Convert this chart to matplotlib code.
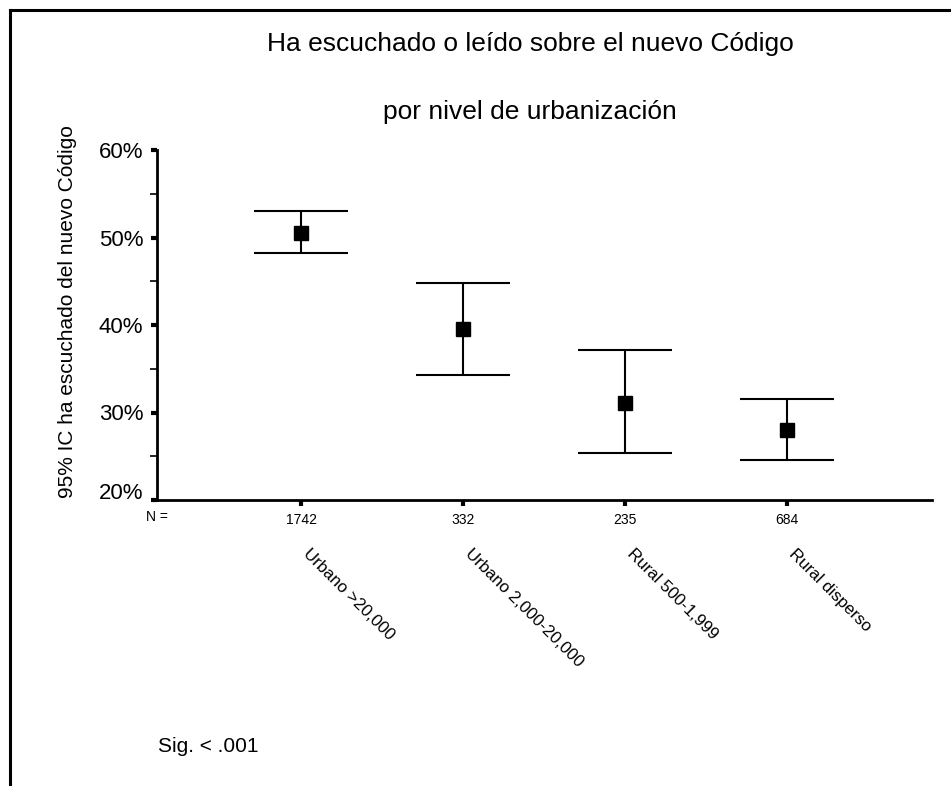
import matplotlib
matplotlib.use("Agg")
import matplotlib.pyplot as plt
from matplotlib.lines import Line2D
from matplotlib.ticker import FixedLocator, FuncFormatter
import matplotlib.transforms as mtransforms

plt.rcParams['font.family'] = ['Liberation Sans', 'DejaVu Sans']

categories = ["Urbano >20,000", "Urbano 2,000-20,000", "Rural 500-1,999", "Rural disperso"]
n_values = ["1742", "332", "235", "684"]
means = [50.5, 39.5, 31.1, 28.0]
upper = [53.0, 44.8, 37.1, 31.5]
lower = [48.2, 34.3, 25.4, 24.6]
y_ticks = [20, 30, 40, 50, 60]
y_minor = [25, 35, 45, 55]

W, H = 951, 786
fig = plt.figure(figsize=(W / 100, H / 100), dpi=100)
fig.patch.set_facecolor('white')

left_px, right_px, bottom_px, top_px = 157, 932, 500, 150
ax = fig.add_axes([left_px / W, 1 - bottom_px / H, (right_px - left_px) / W, (bottom_px - top_px) / H])

xpos = list(range(1, len(categories) + 1))
ax.set_xlim(0.111, 4.895)
ax.set_ylim(20, 60)

cap_half = 0.29
for x, m, lo, hi in zip(xpos, means, lower, upper):
    ax.plot([x, x], [lo, hi], color='black', lw=1.5, solid_capstyle='butt', zorder=2)
    ax.plot([x - cap_half, x + cap_half], [hi, hi], color='black', lw=1.5, solid_capstyle='butt', zorder=2)
    ax.plot([x - cap_half, x + cap_half], [lo, lo], color='black', lw=1.5, solid_capstyle='butt', zorder=2)
ax.plot(xpos, means, linestyle='none', marker='s', markersize=10, color='black', zorder=3)

for s in ['top', 'right']:
    ax.spines[s].set_visible(False)
for s in ['left', 'bottom']:
    ax.spines[s].set_linewidth(2)

ax.yaxis.set_major_locator(FixedLocator(y_ticks))
ax.yaxis.set_minor_locator(FixedLocator(y_minor))
ax.yaxis.set_major_formatter(FuncFormatter(lambda v, p: f"{int(v)}%"))
ax.tick_params(axis='y', which='major', length=4, width=3, labelsize=16, pad=6)
ax.tick_params(axis='y', which='minor', length=5, width=1.2)
ax.set_xticks(xpos)
ax.set_xticklabels(n_values, fontsize=10)
ax.tick_params(axis='x', which='major', length=4, width=3, pad=5)
for lab in ax.get_yticklabels():
    if lab.get_text() == "20%":
        lab.set_transform(lab.get_transform() + mtransforms.ScaledTranslation(0, 9 / 100, fig.dpi_scale_trans))

ax.set_ylabel("95% IC ha escuchado del nuevo Código", fontsize=15)
ax.yaxis.set_label_coords((77 - left_px) / (right_px - left_px), (bottom_px - 312) / (bottom_px - top_px))

fig.text(157 / W, 1 - 517 / H, "N =", fontsize=10, ha='center', va='center')

trans = mtransforms.blended_transform_factory(ax.transData, fig.transFigure)
for x, c in zip(xpos, categories):
    ax.text(x + 0.06, 1 - 546 / H, c, transform=trans, rotation=-45, rotation_mode='anchor',
            ha='left', va='top', fontsize=12.2)

fig.text(530 / W, 1 - 44 / H, "Ha escuchado o leído sobre el nuevo Código", fontsize=19, ha='center', va='center')
fig.text(530 / W, 1 - 112 / H, "por nivel de urbanización", fontsize=19, ha='center', va='center')

fig.text(158 / W, 1 - 747 / H, "Sig. < .001", fontsize=15, ha='left', va='center')

fig.add_artist(Line2D([10 / W, 10 / W], [0, 1 - 10 / H], transform=fig.transFigure, color='black', lw=2.2))
fig.add_artist(Line2D([10 / W, 1], [1 - 10 / H, 1 - 10 / H], transform=fig.transFigure, color='black', lw=2.2))

fig.savefig("out.png", dpi=100, facecolor='white')
